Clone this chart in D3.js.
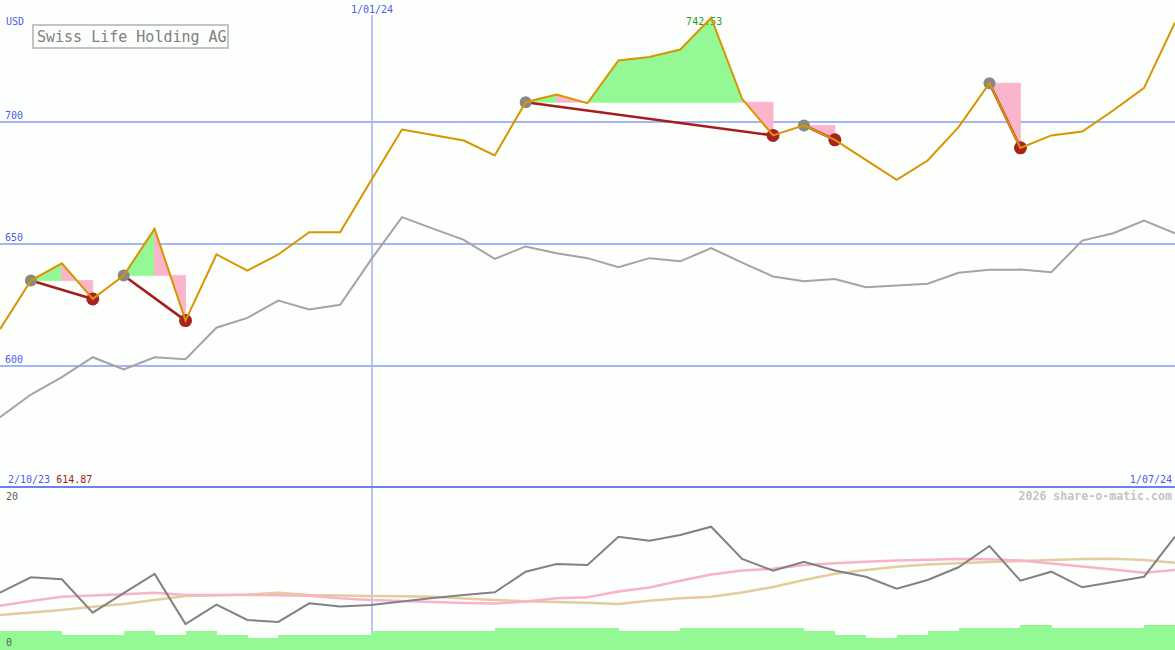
<!DOCTYPE html>
<html><head><meta charset="utf-8">
<script src="https://cdn.jsdelivr.net/npm/d3@7"></script>
<style>
html,body{margin:0;padding:0;background:#fcfffc;}
svg{display:block;}
text{font-family:"DejaVu Sans Mono",monospace;}
</style></head>
<body><div id="chart"></div>
<script>
// ---------- data ----------
const title = "Swiss Life Holding AG";
const currency = "USD";
const startLabel = "2/10/23";
const endLabel = "1/07/24";
const midDateIdx = [12];
const midDateLabels = ["1/01/24"];
const priceTicks = [600, 650, 700];
const lowerTicks = [0, 20];

// weekly closing price (orange)
const price = [614.87, 634.8, 641.9, 627.3, 636.9, 656.0, 618.4, 645.5, 638.9, 645.5,
  654.6, 654.6, 675.8, 696.7, 694.5, 692.2, 686.1, 707.9, 711.1, 707.5,
  725.0, 726.4, 729.5, 742.53, 709.3, 694.3, 698.4, 692.5, 684.3, 676.1,
  684.0, 697.7, 715.7, 689.2, 694.3, 695.9, 704.5, 713.8, 740.6];
// comparison line (grey)
const bench = [578.8, 588.1, 595.2, 603.4, 598.4, 603.4, 602.6, 615.5, 619.5, 626.6,
  623.0, 624.9, 643.4, 660.8, 656.1, 651.5, 643.7, 648.8, 646.0, 644.0,
  640.3, 644.0, 642.7, 648.1, 642.2, 636.5, 634.5, 635.4, 632.1, 632.8,
  633.5, 638.0, 639.2, 639.3, 638.2, 651.2, 654.2, 659.4, 654.2];
// lower panel indicator (dark grey)
const osc = [7.03, 8.92, 8.67, 4.58, 6.99, 9.33, 3.19, 5.56, 3.68, 3.44,
  5.73, 5.34, 5.52, 5.95, 6.38, 6.75, 7.08, 9.61, 10.55, 10.43,
  13.90, 13.41, 14.11, 15.13, 11.17, 9.73, 10.83, 9.75, 8.99, 7.52,
  8.59, 10.15, 12.76, 8.50, 9.61, 7.69, 8.34, 8.99, 13.90];
// fast average (pink)
const maFast = [5.44, 6.01, 6.54, 6.69, 6.83, 7.03, 6.75, 6.75, 6.75, 6.71,
  6.66, 6.34, 6.13, 6.01, 5.89, 5.77, 5.71, 5.95, 6.34, 6.47,
  7.18, 7.67, 8.50, 9.26, 9.75, 9.96, 10.43, 10.64, 10.83, 10.98,
  11.08, 11.17, 11.14, 10.98, 10.61, 10.25, 9.88, 9.48, 9.82];
// slow average (tan)
const maSlow = [4.29, 4.60, 4.91, 5.31, 5.64, 6.13, 6.63, 6.71, 6.81, 7.02,
  6.75, 6.69, 6.63, 6.60, 6.54, 6.32, 6.13, 5.99, 5.89, 5.80,
  5.64, 6.05, 6.34, 6.54, 7.06, 7.73, 8.59, 9.35, 9.82, 10.22,
  10.49, 10.64, 10.80, 10.92, 11.04, 11.17, 11.20, 11.04, 10.71];
// volume-like bars (one per interval)
const volume = [2.33, 2.33, 1.84, 1.84, 2.33, 1.84, 2.33, 1.84, 1.51, 1.84,
  1.84, 1.84, 2.33, 2.33, 2.33, 2.33, 2.70, 2.70, 2.70, 2.70,
  2.33, 2.33, 2.70, 2.70, 2.70, 2.70, 2.33, 1.84, 1.51, 1.84,
  2.33, 2.70, 2.70, 3.07, 2.70, 2.70, 2.70, 3.07];
// swing pairs: peak index -> trough index
const peaks = [1, 4, 17, 26, 32];
const troughs = [3, 6, 25, 27, 33];
const maxIdx = 23;

// ---------- drawing ----------
const W = 1175, H = 650;
const svg = d3.select("#chart").append("svg").attr("width", W).attr("height", H);
svg.append("rect").attr("width", W).attr("height", H).attr("fill", "#fcfffc");

const x = d3.scaleLinear().domain([0, price.length - 1]).range([0, W]);
const y = d3.scaleLinear().domain([600, 700]).range([365.5, 121.5]);
const yl = d3.scaleLinear().domain([0, 20]).range([650, 487]);

const blue = "#4c5cf0";

// horizontal grid via axis
svg.append("g")
  .call(d3.axisRight(y).tickValues(priceTicks).tickSize(W).tickFormat(d3.format("d")))
  .call(g => {
    g.select(".domain").remove();
    g.selectAll(".tick line").attr("stroke", "#a6b4f4").attr("stroke-width", 2);
    g.selectAll(".tick text").attr("x", 5).attr("dy", -3).attr("text-anchor", "start")
      .attr("fill", blue).style("font-size", "10px").style("font-family", "DejaVu Sans Mono");
  });

// vertical date line
svg.append("g").selectAll("line").data(midDateIdx).join("line")
  .attr("x1", d => x(d) + 1).attr("x2", d => x(d) + 1).attr("y1", 15).attr("y2", H)
  .attr("stroke", "#a6b6f8").attr("stroke-width", 1.6);
svg.append("g").selectAll("text").data(midDateIdx).join("text")
  .attr("x", d => x(d) + 1).attr("y", 12.5).attr("text-anchor", "middle")
  .attr("fill", blue).style("font-size", "10px").text((d, i) => midDateLabels[i]);

// grey comparison line
svg.append("path").datum(bench)
  .attr("d", d3.line().x((d, i) => x(i)).y(d => y(d)))
  .attr("fill", "none").attr("stroke", "#a4a4a4").attr("stroke-width", 2);

// swing fills
const fills = [];
peaks.forEach((p, k) => {
  const t = troughs[k], base = price[p];
  for (let i = p; i < t; i++) {
    fills.push({
      pts: [[x(i), y(base)], [x(i), y(price[i])], [x(i + 1), y(price[i + 1])], [x(i + 1), y(base)]],
      up: price[i + 1] >= base
    });
  }
});
svg.append("g").selectAll("path").data(fills).join("path")
  .attr("d", d => "M" + d.pts.map(p => p.join(",")).join("L") + "Z")
  .attr("fill", d => d.up ? "#94f994" : "#fbb5ca")
  .attr("stroke", d => d.up ? "#94f994" : "#fbb5ca").attr("stroke-width", 0.8);

// trend lines peak -> trough
svg.append("g").selectAll("line").data(peaks).join("line")
  .attr("x1", d => x(d)).attr("y1", d => y(price[d]))
  .attr("x2", (d, k) => x(troughs[k])).attr("y2", (d, k) => y(price[troughs[k]]))
  .attr("stroke", "#a41e1e").attr("stroke-width", 2.6);

// markers
svg.append("g").selectAll("circle").data(peaks).join("circle")
  .attr("cx", d => x(d)).attr("cy", d => y(price[d])).attr("r", 6).attr("fill", "#888888");
svg.append("g").selectAll("circle").data(troughs).join("circle")
  .attr("cx", d => x(d)).attr("cy", d => y(price[d])).attr("r", 6.5).attr("fill", "#a82222");

// max label
svg.append("text").attr("x", x(maxIdx) - 7).attr("y", 25).attr("text-anchor", "middle")
  .attr("fill", "#2c9c2c").style("font-size", "10px").text(price[maxIdx].toFixed(2));

// price line
svg.append("path").datum(price)
  .attr("d", d3.line().x((d, i) => x(i)).y(d => y(d)))
  .attr("fill", "none").attr("stroke", "#d99400").attr("stroke-width", 2);

// title box
svg.append("rect").attr("x", 33).attr("y", 25).attr("width", 195).attr("height", 23)
  .attr("fill", "#fcfffc").attr("stroke", "#c4c4c4").attr("stroke-width", 2);
svg.append("text").attr("x", 37).attr("y", 42).attr("fill", "#808080")
  .style("font-size", "15px").text(title);
svg.append("text").attr("x", 6).attr("y", 24.5).attr("fill", blue)
  .style("font-size", "10px").text(currency);

// panel divider
svg.append("line").attr("x1", 0).attr("x2", W).attr("y1", 487).attr("y2", 487)
  .attr("stroke", "#7080ec").attr("stroke-width", 2.2);
const sl = svg.append("text").attr("x", 8).attr("y", 483).style("font-size", "10px");
sl.append("tspan").attr("fill", blue).text(startLabel + " ");
sl.append("tspan").attr("fill", "#a01a1a").text(price[0].toFixed(2));
svg.append("text").attr("x", W - 3).attr("y", 483).attr("text-anchor", "end")
  .attr("fill", blue).style("font-size", "10px").text(endLabel);
svg.append("text").attr("x", W - 3).attr("y", 500).attr("text-anchor", "end")
  .attr("fill", "#c4c4c4").style("font-size", "11.6px").style("font-weight", "bold")
  .text("2026 share-o-matic.com");

// lower panel lines
const ll = d3.line().x((d, i) => x(i)).y(d => yl(d));
svg.append("path").datum(maSlow).attr("d", ll).attr("fill", "none")
  .attr("stroke", "#e4cc9c").attr("stroke-width", 2.5);
svg.append("path").datum(maFast).attr("d", ll).attr("fill", "none")
  .attr("stroke", "#f9b2c8").attr("stroke-width", 2.5);
svg.append("path").datum(osc).attr("d", ll).attr("fill", "none")
  .attr("stroke", "#848084").attr("stroke-width", 2);

// bars
svg.append("g").selectAll("rect").data(volume).join("rect")
  .attr("x", (d, i) => x(i)).attr("width", (d, i) => x(i + 1) - x(i) + 0.5)
  .attr("y", d => yl(d)).attr("height", d => yl(0) - yl(d))
  .attr("fill", "#94f994").attr("shape-rendering", "crispEdges");

// lower axis labels
svg.append("g").selectAll("text").data(lowerTicks).join("text")
  .attr("x", 6).attr("y", d => d === 0 ? 646 : 499.5)
  .attr("fill", "#606060").style("font-size", "10px").text(d => d);
</script>
</body></html>
